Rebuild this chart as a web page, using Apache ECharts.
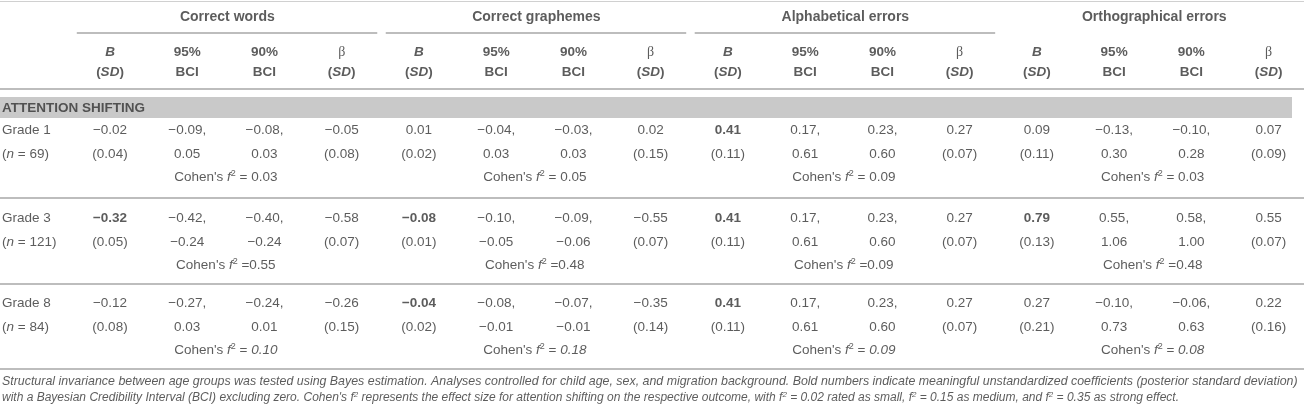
<!DOCTYPE html>
<html><head><meta charset="utf-8">
<script src="https://cdn.jsdelivr.net/npm/echarts@6/dist/echarts.min.js"></script>
<style>html,body{margin:0;padding:0;background:#fff}#c{width:1304px;height:409px}</style>
</head><body><div id="c"></div>
<script>
// ---------------- DATA ----------------
const outcomes = ['Correct words', 'Correct graphemes', 'Alphabetical errors', 'Orthographical errors'];
const sectionTitle = 'ATTENTION SHIFTING';
const grades = ['Grade 1', 'Grade 3', 'Grade 8'];
const gradeN = [69, 121, 84];
// rows = grades, columns = outcomes
const B        = [[-0.02, 0.01, 0.41, 0.09], [-0.32, -0.08, 0.41, 0.79], [-0.12, -0.04, 0.41, 0.27]];
const B_SD     = [[0.04, 0.02, 0.11, 0.11], [0.05, 0.01, 0.11, 0.13], [0.08, 0.02, 0.11, 0.21]];
const ci95Low  = [[-0.09, -0.04, 0.17, -0.13], [-0.42, -0.10, 0.17, 0.55], [-0.27, -0.08, 0.17, -0.10]];
const ci95High = [[0.05, 0.03, 0.61, 0.30], [-0.24, -0.05, 0.61, 1.06], [0.03, -0.01, 0.61, 0.73]];
const ci90Low  = [[-0.08, -0.03, 0.23, -0.10], [-0.40, -0.09, 0.23, 0.58], [-0.24, -0.07, 0.23, -0.06]];
const ci90High = [[0.03, 0.03, 0.60, 0.28], [-0.24, -0.06, 0.60, 1.00], [0.01, -0.01, 0.60, 0.63]];
const beta     = [[-0.05, 0.02, 0.27, 0.07], [-0.58, -0.55, 0.27, 0.55], [-0.26, -0.35, 0.27, 0.22]];
const betaSD   = [[0.08, 0.15, 0.07, 0.09], [0.07, 0.07, 0.07, 0.07], [0.15, 0.14, 0.07, 0.16]];
const cohenF2  = [[0.03, 0.05, 0.09, 0.03], [0.55, 0.48, 0.09, 0.48], [0.10, 0.18, 0.09, 0.08]];
const meaningful = [[false, false, true, false], [true, true, true, true], [false, true, true, false]];
const footnote1 = 'Structural invariance between age groups was tested using Bayes estimation. Analyses controlled for child age, sex, and migration background. Bold numbers indicate meaningful unstandardized coefficients (posterior standard deviation)';
const footnote2a = "with a Bayesian Credibility Interval (BCI) excluding zero. Cohen's f";
const footnote2b = ' represents the effect size for attention shifting on the respective outcome, with f';
const footnote2c = ' = 0.02 rated as small, f';
const footnote2d = ' = 0.15 as medium, and f';
const footnote2e = ' = 0.35 as strong effect.';

// ---------------- LAYOUT ----------------
const W = 1304, H = 409;
const X0 = 110, DX = 77.24;                 // column scale (axis units = column index)
const xMin = -X0 / DX, xMax = (W - X0) / DX;
const xLeft = (2 - X0) / DX;
const FF = 'Liberation Sans';
const FS = 13.5;
const COL = '#333';
const RULE = '#bdbdbd';
const yGroupHead = 17, yGroupRule = 33, ySub1 = 52, ySub2 = 72, yHeadRule = 89;
const bandTop = 97, bandBot = 118, yBand = 108;
const blockY = [130, 218, 303];
const lineDY = [0, 24.3, 47.5];
const blockRule = [198, 284, 369];
const yFoot = [382, 398];
const f2Sep = [' = ', ' =', ' = '];
const f2Italic = [false, false, true];

const fmt = v => (v < 0 ? '\u2212' : '') + Math.abs(v).toFixed(2);

const cells = [];
function cell(x, y, text, lab) {
  cells.push({ value: [x, y], label: Object.assign({ formatter: () => text }, lab || {}) });
}

// group headers + sub headers
outcomes.forEach((o, g) => {
  cell(4 * g + 1.52, yGroupHead, o, { fontWeight: 'bold', fontSize: 14 });
  cell(4 * g, ySub1, '{bi|B}');
  cell(4 * g, ySub2, '{b|(}{bi|SD}{b|)}');
  cell(4 * g + 1, ySub1, '{b|95%}');
  cell(4 * g + 1, ySub2, '{b|BCI}');
  cell(4 * g + 2, ySub1, '{b|90%}');
  cell(4 * g + 2, ySub2, '{b|BCI}');
  cell(4 * g + 3, ySub1, '{beta|\u03b2}');
  cell(4 * g + 3, ySub2, '{b|(}{bi|SD}{b|)}');
});
cell(xLeft, yBand, sectionTitle, { align: 'left', fontWeight: 'bold' });

grades.forEach((gr, r) => {
  const y0 = blockY[r] + lineDY[0], y1 = blockY[r] + lineDY[1], y2 = blockY[r] + lineDY[2];
  cell(xLeft, y0, gr, { align: 'left' });
  cell(xLeft, y1, '{r|(}{i|n}{r| = ' + gradeN[r] + ')}', { align: 'left' });
  outcomes.forEach((o, g) => {
    const bx = 4 * g;
    cell(bx, y0, fmt(B[r][g]), meaningful[r][g] ? { fontWeight: 'bold' } : {});
    cell(bx, y1, '(' + fmt(B_SD[r][g]) + ')');
    cell(bx + 1, y0, fmt(ci95Low[r][g]) + ',');
    cell(bx + 1, y1, fmt(ci95High[r][g]));
    cell(bx + 2, y0, fmt(ci90Low[r][g]) + ',');
    cell(bx + 2, y1, fmt(ci90High[r][g]));
    cell(bx + 3, y0, fmt(beta[r][g]));
    cell(bx + 3, y1, '(' + fmt(betaSD[r][g]) + ')');
    const vs = f2Italic[r] ? 'i' : 'r';
    cell(bx + 1.5, y2, "{r|Cohen's }{i|f}{sup|2}{r|" + f2Sep[r] + '}{' + vs + '|' + cohenF2[r][g].toFixed(2) + '}');
  });
});

cell(xLeft, yFoot[0], '{fn1|' + footnote1 + '}', { align: 'left' });
cell(xLeft, yFoot[1], '{fn|' + footnote2a + '}{fs|2}{fn|' + footnote2b + '}{fs|2}{fn|' + footnote2c + '}{fs|2}{fn|' + footnote2d + '}{fs|2}{fn|' + footnote2e + '}', { align: 'left' });

// rules
const ruleLines = [];
function rule(x1, x2, y, w, c) {
  ruleLines.push([{ coord: [x1, y], lineStyle: { width: w, color: c || RULE, type: 'solid' } }, { coord: [x2, y] }]);
}
rule(xMin, xMax, 1, 1, '#d0d0d0');
outcomes.forEach((o, g) => rule(4 * g - 0.43, 4 * g + 3.46, yGroupRule, 2));
rule(xMin, xMax, yHeadRule, 2);
blockRule.forEach(y => rule(xMin, xMax, y, 2));

const rich = {
  r:   { fontFamily: FF, fontSize: FS, color: COL, lineHeight: 16 },
  i:   { fontFamily: FF, fontSize: FS, color: COL, fontStyle: 'italic', lineHeight: 16 },
  b:   { fontFamily: FF, fontSize: FS, color: COL, fontWeight: 'bold', lineHeight: 16 },
  bi:  { fontFamily: FF, fontSize: FS, color: COL, fontWeight: 'bold', fontStyle: 'italic', lineHeight: 16 },
  beta:{ fontFamily: 'Liberation Serif', fontSize: 14, color: COL, lineHeight: 16 },
  sup: { fontFamily: FF, fontSize: 9, color: COL, verticalAlign: 'top' },
  fn1: { fontFamily: FF, fontSize: 12.4, color: COL, fontStyle: 'italic', lineHeight: 15 },
  fn:  { fontFamily: FF, fontSize: 12, color: COL, fontStyle: 'italic', lineHeight: 15 },
  fs:  { fontFamily: FF, fontSize: 8, color: COL, fontStyle: 'italic', verticalAlign: 'top' }
};

const chart = echarts.init(document.getElementById('c'), null, { renderer: 'canvas' });
chart.setOption({
  animation: false,
  backgroundColor: '#fff',
  grid: { left: 0, right: 0, top: 0, bottom: 0 },
  xAxis: { type: 'value', min: xMin, max: xMax, show: false },
  yAxis: { type: 'value', min: 0, max: H, inverse: true, show: false },
  series: [{
    type: 'scatter',
    symbolSize: 0,
    silent: true,
    z: 5,
    label: {
      show: true, position: 'inside', align: 'center', verticalAlign: 'middle',
      fontFamily: FF, fontSize: FS, color: COL, rich: rich
    },
    data: cells,
    markLine: { silent: true, symbol: ['none', 'none'], label: { show: false }, data: ruleLines },
    markArea: {
      silent: true, itemStyle: { color: '#c9c9c9' }, label: { show: false },
      data: [[{ coord: [xMin, bandTop] }, { coord: [(1292 - X0) / DX, bandBot] }]]
    }
  }]
});
</script>
</body></html>
